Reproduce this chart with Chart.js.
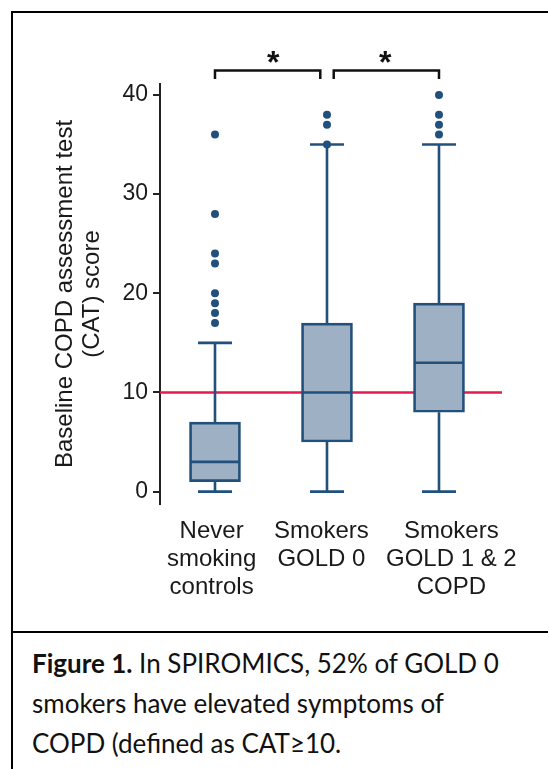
<!DOCTYPE html>
<html>
<head>
<meta charset="utf-8">
<script src="https://cdn.jsdelivr.net/npm/chart.js@4.4.1/dist/chart.umd.min.js"></script>
<style>
  html, body { margin: 0; padding: 0; background: #fff; overflow: hidden; }
  #page { position: relative; width: 548px; height: 769px; overflow: hidden; }
  #frame { position: absolute; left: 11px; top: 11px; width: 600px; height: 618px; border: 2px solid #000; }
  #leftRule { position: absolute; left: 11px; top: 631px; width: 2px; height: 140px; background: #000; }
  #wrap { position: absolute; left: 0; top: 0; width: 548px; height: 632px; }
  #caption { position: absolute; left: 32px; top: 643px; width: 515px; font-family: Lato, "Noto Sans", sans-serif;
             font-size: 26px; line-height: 40px; color: #111; }
</style>
</head>
<body>
<div id="page">
  <div id="frame"></div>
  <div id="leftRule"></div>
  <div id="wrap"><canvas id="catChart" width="548" height="632"></canvas></div>
  <div id="caption"><b>Figure 1.</b> In SPIROMICS, 52% of GOLD 0<br>smokers have elevated symptoms of<br>COPD (defined as CAT≥10.</div>
</div>
<script>
// data
const categories = [['Never', 'smoking', 'controls'], ['Smokers', 'GOLD 0'], ['Smokers', 'GOLD 1 & 2', 'COPD']];
const whiskerLow = [0, 0, 0];
const q1 = [1, 5, 8];
const medians = [3, 10, 13];
const q3 = [7, 17, 19];
const whiskerHigh = [15, 35, 35];
const outliers = [[17, 18, 19, 20, 23, 24, 28, 36], [35, 37, 38], [36, 37, 38, 40]];
const threshold = 10;
const yTicks = [0, 10, 20, 30, 40];
const comparisons = [[0, 1], [1, 2]];
const sigLabels = ['*', '*'];

const BLUE = '#21507c';
const FILL = '#9eb1c4';
const RED = '#e8194b';
const AXIS_FONT = '"Liberation Sans", Arial, sans-serif';

const xMin = -0.491, xMax = 2.5625;
const yMin = -1.25, yMax = 41.1;
const bracketTop = 42.45, bracketLeg = 41.6, bracketGap = 0.06;
// small sideways nudges of the category labels, as in the figure
const labelShift = [-0.03, -0.05, 0.11];

// whisker segments, broken with nulls between them
const whiskerPts = [];
categories.forEach((c, i) => {
  whiskerPts.push({x: i, y: whiskerLow[i]}, {x: i, y: q1[i]}, {x: i, y: null});
  whiskerPts.push({x: i, y: q3[i]}, {x: i, y: whiskerHigh[i]}, {x: i, y: null});
});

const capPts = [];
categories.forEach((c, i) => {
  capPts.push({x: i, y: whiskerLow[i]}, {x: i, y: whiskerHigh[i]});
});

const outlierPts = [];
outliers.forEach((list, i) => list.forEach(v => outlierPts.push({x: i, y: v})));

const bracketSets = comparisons.map(([a, b], k) => {
  const l = a + (k > 0 && comparisons[k - 1][1] === a ? bracketGap : 0);
  const r = b - (k < comparisons.length - 1 && comparisons[k + 1][0] === b ? bracketGap : 0);
  return {
    type: 'line',
    data: [{x: l, y: bracketLeg}, {x: l, y: bracketTop}, {x: r, y: bracketTop}, {x: r, y: bracketLeg}],
    borderColor: '#111',
    borderWidth: 2.5,
    pointRadius: 0,
    clip: false,
    order: 1
  };
});

const sigPlugin = {
  id: 'sigStars',
  afterDatasetsDraw(chart) {
    const {ctx, scales: {x, y}} = chart;
    ctx.save();
    ctx.fillStyle = '#111';
    ctx.font = 'bold 32px ' + AXIS_FONT;
    ctx.textAlign = 'center';
    ctx.textBaseline = 'alphabetic';
    comparisons.forEach(([a, b], k) => {
      const px = x.getPixelForValue((a + b) / 2 + 0.02);
      const py = y.getPixelForValue(bracketTop) + 2.5;
      ctx.fillText(sigLabels[k], px, py);
    });
    ctx.restore();
  }
};

new Chart(document.getElementById('catChart'), {
  type: 'bar',
  data: {
    datasets: [
      {
        type: 'line',
        data: [{x: xMin, y: threshold}, {x: xMax, y: threshold}],
        borderColor: RED,
        borderWidth: 2.5,
        pointRadius: 0,
        order: 10
      },
      {
        type: 'line',
        data: whiskerPts,
        borderColor: BLUE,
        borderWidth: 2.6,
        pointRadius: 0,
        spanGaps: false,
        order: 6
      },
      {
        type: 'bar',
        data: categories.map((c, i) => ({x: i, y: [q1[i], q3[i]]})),
        backgroundColor: FILL,
        borderColor: BLUE,
        borderWidth: 2.7,
        borderSkipped: false,
        barThickness: 51,
        order: 5
      },
      {
        type: 'scatter',
        data: medians.map((m, i) => ({x: i, y: m})),
        pointStyle: 'line',
        pointRadius: 24,
        borderColor: BLUE,
        borderWidth: 2.6,
        order: 4
      },
      {
        type: 'scatter',
        data: capPts,
        pointStyle: 'line',
        pointRadius: 17,
        borderColor: BLUE,
        borderWidth: 2.6,
        order: 4
      },
      {
        type: 'scatter',
        data: outlierPts,
        pointRadius: 4,
        backgroundColor: BLUE,
        borderWidth: 0,
        order: 3
      },
      ...bracketSets
    ]
  },
  options: {
    responsive: false,
    animation: false,
    events: [],
    layout: { padding: { left: 0, top: 84, right: 46, bottom: 0 } },
    plugins: { legend: { display: false }, tooltip: { enabled: false } },
    scales: {
      x: {
        type: 'linear',
        min: xMin,
        max: xMax,
        offset: false,
        afterBuildTicks: s => { s.ticks = categories.map((c, i) => ({value: i + labelShift[i]})); },
        afterFit: s => { s.height = 128; },
        grid: { display: false },
        border: { display: false },
        ticks: {
          autoSkip: false,
          maxRotation: 0,
          minRotation: 0,
          padding: 5,
          color: '#1a1a1a',
          font: { family: AXIS_FONT, size: 24, lineHeight: 1.167 },
          callback: (v, idx) => categories[idx]
        }
      },
      y: {
        type: 'linear',
        min: yMin,
        max: yMax,
        afterBuildTicks: s => { s.ticks = yTicks.map(v => ({value: v})); },
        afterFit: s => { s.width = 160; },
        grid: { drawOnChartArea: false, drawTicks: true, tickLength: 7, color: '#222', lineWidth: 2 },
        border: { display: true, color: '#222', width: 2 },
        ticks: {
          padding: 5,
          color: '#1a1a1a',
          font: { family: AXIS_FONT, size: 23 }
        },
        title: {
          display: true,
          text: ['Baseline COPD assessment test', '(CAT) score'],
          color: '#1a1a1a',
          font: { family: AXIS_FONT, size: 24, lineHeight: 1.11 },
          padding: { top: 52, bottom: 0 }
        }
      }
    }
  },
  plugins: [sigPlugin]
});
</script>
</body>
</html>
